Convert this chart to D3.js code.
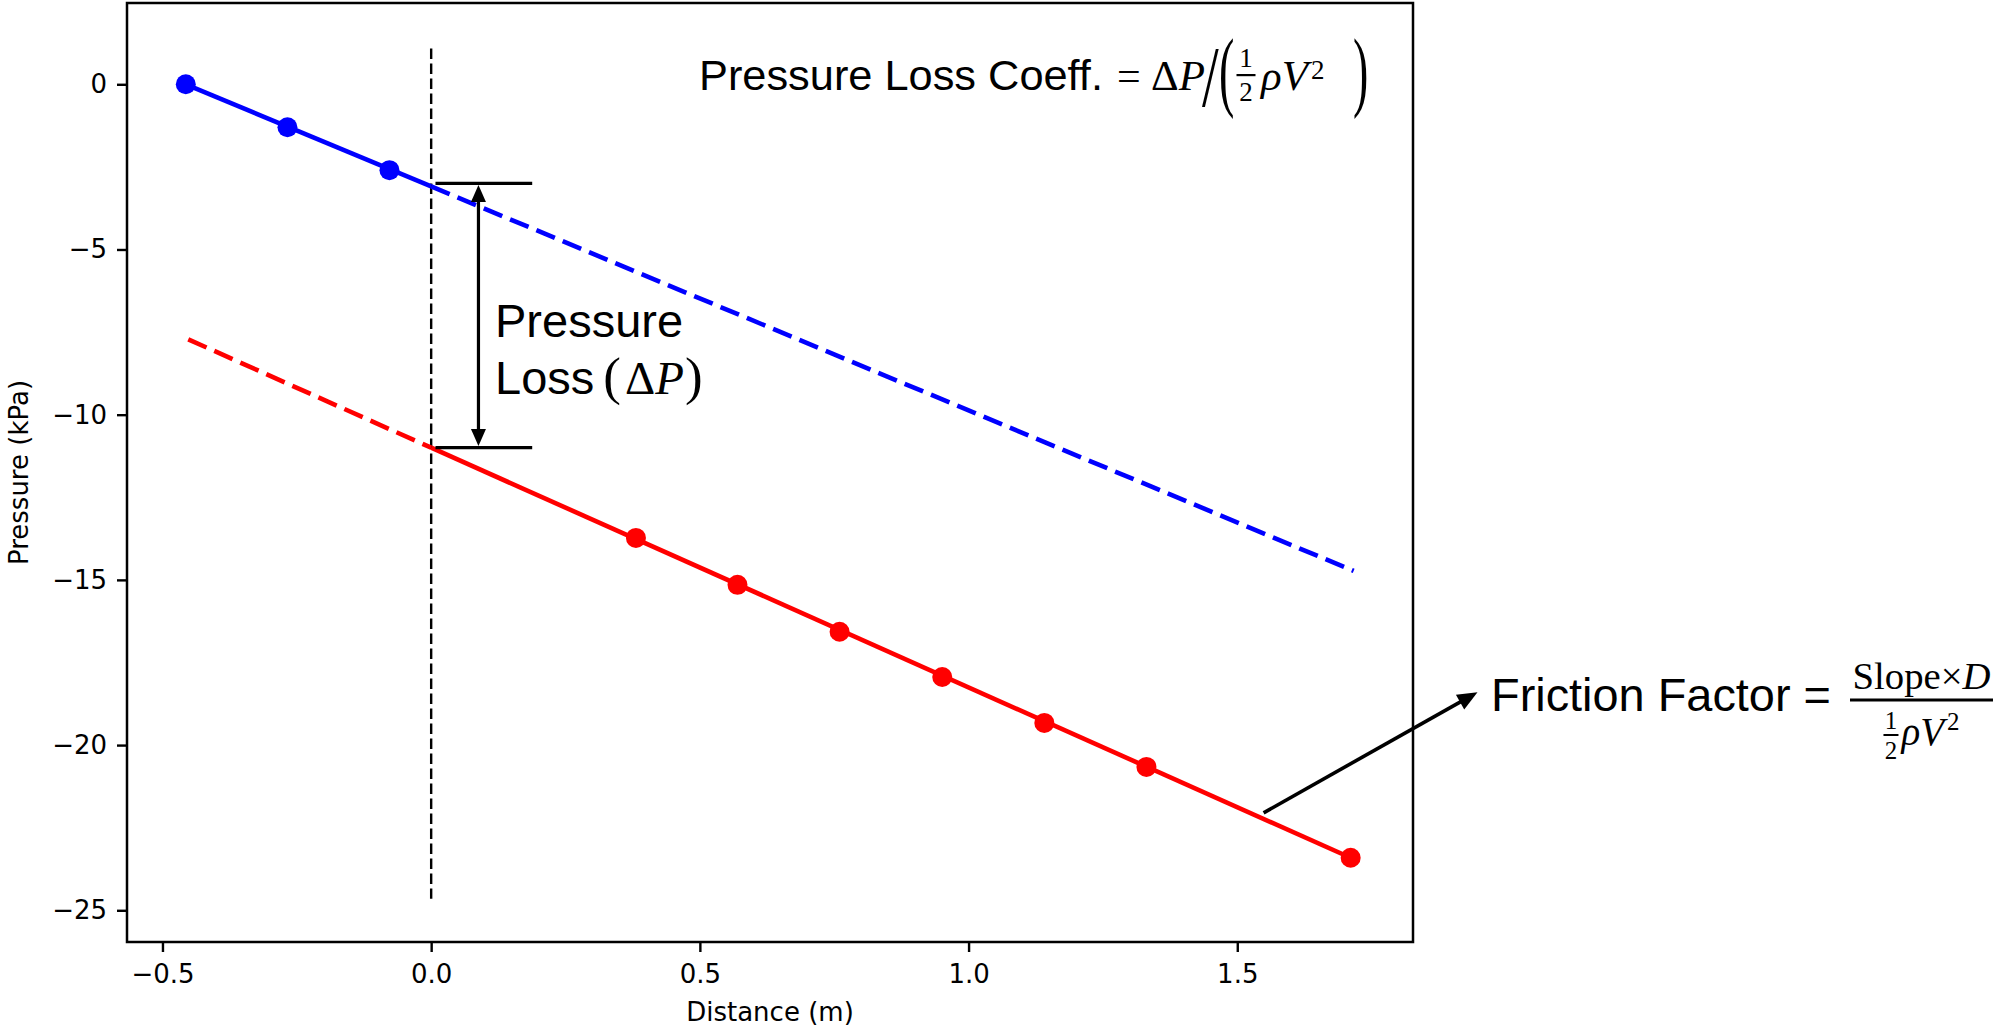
<!DOCTYPE html>
<html><head><meta charset="utf-8">
<script src="https://cdn.jsdelivr.net/npm/d3@7"></script>
<style>body{margin:0;background:#fff} svg{display:block}</style>
</head><body>
<svg id="c" width="1997" height="1028"></svg>
<script>
// ---- data ----
const blueX = [-0.4566, -0.2674, -0.0776];
const blueY = [0.0, -1.30, -2.60];
const redX = [0.381, 0.570, 0.760, 0.951, 1.141, 1.331, 1.711];
const redY = [-13.73, -15.15, -16.57, -17.94, -19.33, -20.66, -23.41];
// fitted lines: start, x = 0, end
const blueLineX = [-0.4566, 0.0, 1.7166];
const blueLineY = [0.0, -3.09, -14.73];
const redLineX = [-0.452, 0.0, 1.711];
const redLineY = [-7.72, -11.0, -23.41];
// vertical reference line at x = 0
const refLineX = [0.0, 0.0];
const refLineY = [1.08, -24.65];
// pressure-loss bracket
const bracketX = [0.008, 0.188];
const bracketY = [-3.0, -11.0];
const bracketArrowX = 0.088;
// friction factor arrow (start, tip)
const frictionArrowX = [1.549, 1.947];
const frictionArrowY = [-22.05, -18.40];
// ticks
const xTicks = [-0.5, 0.0, 0.5, 1.0, 1.5];
const yTicks = [0, -5, -10, -15, -20, -25];
const xDomain = [-0.566, 1.827];
const yDomain = [-25.96, 2.46];

// ---- layout ----
const M = {left: 127, top: 3, right: 1413, bottom: 942};
const svg = d3.select('#c');
svg.append('rect').attr('width', 1997).attr('height', 1028).attr('fill', '#fff');
const x = d3.scaleLinear().domain(xDomain).range([M.left, M.right]);
const y = d3.scaleLinear().domain(yDomain).range([M.bottom, M.top]);
const line = d3.line().x(d => x(d[0])).y(d => y(d[1]));
const zip = (a, b) => a.map((v, i) => [v, b[i]]);

const g = svg.append('g');

// vertical dashed reference line
g.append('path').attr('d', line(zip(refLineX, refLineY)))
  .attr('stroke', '#000').attr('stroke-width', 2.4).attr('stroke-dasharray', '10.5,4.5').attr('fill', 'none');

const blueL = zip(blueLineX, blueLineY), redL = zip(redLineX, redLineY);
const LW = 4.6;
g.append('path').attr('d', line(blueL.slice(0, 2))).attr('stroke', '#0000ff').attr('stroke-width', LW).attr('fill', 'none');
g.append('path').attr('d', line(blueL.slice(1, 3))).attr('stroke', '#0000ff').attr('stroke-width', LW).attr('fill', 'none').attr('stroke-dasharray', '20,8.5');
g.append('path').attr('d', line(redL.slice(0, 2))).attr('stroke', '#ff0000').attr('stroke-width', LW).attr('fill', 'none').attr('stroke-dasharray', '20,8.5');
g.append('path').attr('d', line(redL.slice(1, 3))).attr('stroke', '#ff0000').attr('stroke-width', LW).attr('fill', 'none');

g.selectAll('.bp').data(zip(blueX, blueY)).join('circle')
  .attr('cx', d => x(d[0])).attr('cy', d => y(d[1])).attr('r', 10).attr('fill', '#0000ff');
g.selectAll('.rp').data(zip(redX, redY)).join('circle')
  .attr('cx', d => x(d[0])).attr('cy', d => y(d[1])).attr('r', 10).attr('fill', '#ff0000');

// arrow helper
function arrowHead(tip, from, L, w) {
  const dx = tip[0] - from[0], dy = tip[1] - from[1];
  const n = Math.hypot(dx, dy), ux = dx / n, uy = dy / n;
  const bx = tip[0] - L * ux, by = tip[1] - L * uy;
  g.append('path').attr('d', `M${tip[0]},${tip[1]}L${bx - w * uy},${by + w * ux}L${bx + w * uy},${by - w * ux}Z`).attr('fill', '#000');
  return [tip[0] - 0.8 * L * ux, tip[1] - 0.8 * L * uy];
}

// bracket
bracketY.forEach(v => {
  g.append('line').attr('x1', x(bracketX[0])).attr('x2', x(bracketX[1])).attr('y1', y(v)).attr('y2', y(v))
    .attr('stroke', '#000').attr('stroke-width', 3.2);
});
{
  const top = [x(bracketArrowX), y(bracketY[0]) + 1.6], bot = [x(bracketArrowX), y(bracketY[1]) - 1.6];
  const a = arrowHead(top, bot, 17, 7.5), b = arrowHead(bot, top, 17, 7.5);
  g.append('line').attr('x1', a[0]).attr('y1', a[1]).attr('x2', b[0]).attr('y2', b[1]).attr('stroke', '#000').attr('stroke-width', 3.2);
}
// friction arrow
{
  const s = [x(frictionArrowX[0]), y(frictionArrowY[0])], t = [x(frictionArrowX[1]), y(frictionArrowY[1])];
  const a = arrowHead(t, s, 20, 8.5);
  g.append('line').attr('x1', s[0]).attr('y1', s[1]).attr('x2', a[0]).attr('y2', a[1]).attr('stroke', '#000').attr('stroke-width', 3.6);
}

// frame
svg.append('rect').attr('x', M.left).attr('y', M.top).attr('width', M.right - M.left).attr('height', M.bottom - M.top)
  .attr('fill', 'none').attr('stroke', '#000').attr('stroke-width', 2.5);

// axes
const xa = svg.append('g').attr('transform', `translate(0,${M.bottom})`)
  .call(d3.axisBottom(x).tickValues(xTicks).tickFormat(d3.format('.1f')).tickSize(10).tickPadding(13).tickSizeOuter(0));
const ya = svg.append('g').attr('transform', `translate(${M.left},0)`)
  .call(d3.axisLeft(y).tickValues(yTicks).tickFormat(d3.format('d')).tickSize(10).tickPadding(10).tickSizeOuter(0));
[xa, ya].forEach(a => {
  a.select('.domain').remove();
  a.selectAll('line').attr('stroke', '#000').attr('stroke-width', 2.4);
  a.selectAll('text').attr('fill', '#000').attr('font-family', 'DejaVu Sans').attr('font-size', 26);
});

svg.append('text').attr('x', (M.left + M.right) / 2).attr('y', 1021).attr('text-anchor', 'middle')
  .attr('font-family', 'DejaVu Sans').attr('font-size', 26).attr('fill', '#000').text('Distance (m)');
svg.append('text').attr('transform', `translate(28,${(M.top + M.bottom) / 2}) rotate(-90)`).attr('text-anchor', 'middle')
  .attr('font-family', 'DejaVu Sans').attr('font-size', 26).attr('fill', '#000').text('Pressure (kPa)');

// ---- annotation text ----
const tg = svg.append('g');
function T(x0, y0, s, o = {}) {
  const t = tg.append('text').text(s)
    .attr('font-family', o.ff || 'Liberation Serif').attr('font-size', o.fs || 41)
    .attr('font-style', o.it ? 'italic' : 'normal').attr('fill', '#000');
  if (o.anchor) t.attr('text-anchor', o.anchor);
  if (o.sy) t.attr('transform', `translate(${x0},${y0}) scale(1,${o.sy})`);
  else t.attr('x', x0).attr('y', y0);
  if (o.width) { // fit font size to a target width
    const w0 = t.node().getComputedTextLength();
    t.attr('font-size', (o.fs || 41) * o.width / w0);
  }
  return t.node().getComputedTextLength();
}
function bar(x0, y0, w, h) { tg.append('rect').attr('x', x0).attr('y', y0).attr('width', w).attr('height', h).attr('fill', '#000'); }

// top formula
{
  const B = 90;
  T(699, B, 'Pressure Loss Coeff.', {ff: 'Liberation Sans', fs: 43, width: 404});
  T(1117, B, '=', {fs: 42});
  let cx = 1151;
  cx += T(cx, B, 'Δ', {fs: 43});
  T(cx, B, 'P', {fs: 43, it: true});
  T(1202, 106, '/', {fs: 60, sy: 1.45});
  T(1219, 99.8, '(', {fs: 46, sy: 1.95});
  const fc = 1246;
  T(fc, 67, '1', {fs: 27, anchor: 'middle'});
  T(fc, 101, '2', {fs: 27, anchor: 'middle'});
  bar(fc - 9.5, 74, 19, 2.2);
  cx = 1261;
  cx += T(cx, B, 'ρ', {fs: 43, it: true});
  cx += T(cx, B, 'V', {fs: 43, it: true}); cx += 3;
  T(cx, 79, '2', {fs: 27});
  T(1353, 99.8, ')', {fs: 46, sy: 1.95});
}
// bracket label
{
  T(495, 337, 'Pressure', {ff: 'Liberation Sans', fs: 47});
  let cx = 495;
  cx += T(cx, 394, 'Loss', {ff: 'Liberation Sans', fs: 47}); cx += 9;
  cx += T(cx, 394, '(', {fs: 53}); cx += 4;
  cx += T(cx, 394, 'Δ', {fs: 47});
  cx += T(cx, 394, 'P', {fs: 47, it: true}); cx += 1;
  T(cx, 394, ')', {fs: 53});
}
// friction factor
{
  const B = 711;
  T(1491, B, 'Friction Factor =', {ff: 'Liberation Sans', fs: 50, width: 340});
  const b0 = 1850, b1 = 1993, mid = (b0 + b1) / 2;
  bar(b0, 698.5, b1 - b0, 3);
  // numerator
  const num = tg.append('text').attr('x', mid).attr('y', 689).attr('text-anchor', 'middle')
    .attr('font-family', 'Liberation Serif').attr('font-size', 40).attr('fill', '#000');
  num.append('tspan').text('Slope×');
  num.append('tspan').attr('font-style', 'italic').text('D');
  const nw = num.node().getComputedTextLength();
  num.attr('font-size', 40 * 138 / nw);
  // denominator
  const fw = 15;
  const meas = tg.append('g');
  const mt = (s, fs, it) => { const t = meas.append('text').attr('font-family', 'Liberation Serif').attr('font-size', fs).attr('font-style', it ? 'italic' : 'normal').text(s); return t.node().getComputedTextLength(); };
  const total = fw + 3 + mt('ρ', 39, true) + mt('V', 39, true) + 3 + mt('2', 25, false);
  meas.remove();
  let sx = mid - total / 2;
  T(sx + fw / 2, 729, '1', {fs: 25, anchor: 'middle'});
  T(sx + fw / 2, 759, '2', {fs: 25, anchor: 'middle'});
  bar(sx, 734, fw, 2);
  sx += fw + 3;
  sx += T(sx, 745, 'ρ', {fs: 39, it: true});
  sx += T(sx, 745, 'V', {fs: 39, it: true}); sx += 3;
  T(sx, 730, '2', {fs: 25});
}
</script>
</body></html>
